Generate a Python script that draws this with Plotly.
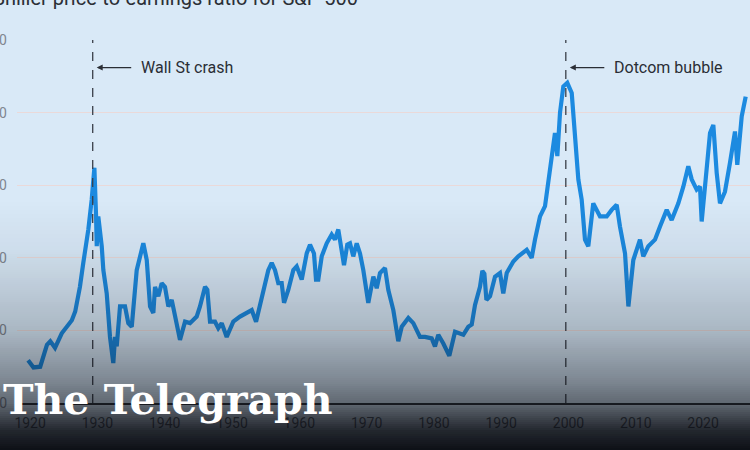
import numpy as np
import plotly.graph_objects as go

# Shiller CAPE (year, ratio)
years = [1919.7, 1920.5, 1921.5, 1922.5, 1923.0, 1923.7, 1924.7, 1925.4, 1926.2, 1926.7,
         1927.4, 1927.9, 1928.65, 1929.15, 1929.55, 1929.8, 1929.9, 1930.13, 1930.64, 1930.88,
         1931.38, 1931.87, 1932.36, 1932.62, 1932.87, 1933.36, 1934.1, 1934.59, 1935.1, 1935.84,
         1936.82, 1937.33, 1937.82, 1938.31, 1938.56, 1939.05, 1939.55, 1940.04, 1940.54, 1941.04,
         1941.53, 1942.27, 1943.02, 1943.76, 1944.75, 1945.24, 1945.99, 1946.33, 1946.73, 1947.47,
         1947.96, 1948.47, 1949.21, 1950.19, 1951.19, 1952.2, 1952.93, 1953.57, 1954.65, 1955.39,
         1955.9, 1956.39, 1956.88, 1957.38, 1957.73, 1958.37, 1959.11, 1959.61, 1960.36, 1961.1,
         1961.59, 1962.18, 1962.48, 1962.82, 1963.33, 1964.07, 1964.81, 1965.3, 1965.79, 1966.3,
         1966.64, 1967.13, 1967.53, 1968.02, 1968.53, 1969.02, 1969.51, 1970.25, 1971.0, 1971.5,
         1971.99, 1972.73, 1973.22, 1973.97, 1974.71, 1975.22, 1976.2, 1976.94, 1977.93, 1978.68,
         1979.67, 1980.16, 1980.65, 1981.4, 1982.29, 1983.14, 1983.88, 1984.37, 1985.11, 1985.62,
         1986.11, 1986.85, 1987.2, 1987.5, 1987.8, 1988.34, 1989.08, 1989.82, 1990.31, 1990.82,
         1991.8, 1992.54, 1993.79, 1994.53, 1995.02, 1995.77, 1996.51, 1997.25, 1997.99, 1998.34,
         1998.74, 1999.23, 1999.82, 2000.48, 2000.97, 2001.46, 2001.96, 2002.45, 2002.94, 2003.68,
         2004.68, 2005.68, 2006.42, 2007.16, 2007.65, 2008.4, 2008.9, 2009.63, 2010.62, 2011.11,
         2011.86, 2012.85, 2013.6, 2014.59, 2015.33, 2016.32, 2017.06, 2017.8, 2018.31, 2019.05,
         2019.54, 2019.79, 2020.28, 2021.03, 2021.52, 2022.02, 2022.51, 2023.25, 2024.0, 2024.74,
         2025.08, 2025.74, 2026.33]
cape = [5.9, 4.9, 5.0, 8.0, 8.5, 7.6, 9.6, 10.5, 11.4, 12.6,
        16.0, 19.3, 23.9, 28.0, 32.4, 25.7, 21.6, 25.7, 21.6, 18.3,
        15.1, 9.1, 5.5, 9.1, 7.8, 13.3, 13.3, 11.0, 10.5, 18.3,
        22.0, 19.7, 13.3, 12.4, 16.0, 14.7, 16.5, 16.0, 13.3, 14.2,
        11.9, 8.7, 11.2, 11.0, 11.9, 13.3, 16.0, 15.6, 11.2, 11.2,
        10.3, 11.0, 9.1, 11.2, 11.9, 12.4, 12.8, 11.2, 15.6, 18.3,
        19.3, 18.3, 16.5, 16.5, 13.8, 15.6, 18.3, 18.8, 17.0, 20.6,
        21.8, 20.6, 17.0, 17.0, 20.2, 22.0, 23.2, 22.5, 23.9, 21.1,
        19.0, 21.8, 22.0, 20.2, 22.0, 20.6, 18.3, 13.8, 17.4, 15.8,
        17.9, 18.6, 15.6, 12.8, 8.5, 10.5, 11.7, 11.0, 9.1, 9.1,
        8.9, 7.8, 9.4, 8.2, 6.5, 9.8, 9.6, 9.4, 10.5, 10.8,
        13.5, 16.0, 18.2, 17.8, 14.2, 14.7, 17.4, 17.9, 15.1, 17.9,
        19.5, 20.2, 21.1, 20.0, 22.5, 25.7, 27.1, 32.6, 37.2, 34.0,
        40.0, 43.6, 44.1, 42.7, 36.3, 30.8, 28.0, 22.5, 21.6, 27.5,
        25.7, 25.7, 26.6, 27.3, 24.3, 20.6, 13.3, 19.7, 22.5, 20.2,
        21.6, 22.5, 24.3, 26.6, 25.2, 27.5, 29.8, 32.6, 30.8, 29.4,
        29.8, 25.0, 29.8, 37.2, 38.3, 31.7, 27.5, 29.1, 33.1, 37.4,
        32.8, 39.5, 42.2]

events = ["Wall St crash", "Dotcom bubble"]
event_years = [1929.3, 1999.6]
tick_years = [1920, 1930, 1940, 1950, 1960, 1970, 1980, 1990, 2000, 2010, 2020]
y_ticks = [0, 10, 20, 30, 40, 50]

W, H = 750, 450
L, R, T, B = 17, 0, 40, 47
plot_h = H - T - B

fig = go.Figure()
fig.add_trace(go.Scatter(x=years, y=cape, mode="lines",
                         line=dict(color="#1c8ae0", width=4.2), hoverinfo="skip"))

for ey in event_years:
    fig.add_shape(type="line", xref="x", yref="paper", x0=ey, x1=ey, y0=0, y1=1,
                  line=dict(color="#3a3f48", width=1.3, dash="dash"))

# labels with arrows
for ey, txt in zip(event_years, events):
    fig.add_annotation(x=ey, y=46.2, xref="x", yref="y", text="", showarrow=True,
                       ax=40, ay=0, axref="pixel", ayref="pixel",
                       arrowhead=2, arrowsize=1, arrowwidth=1.2, arrowcolor="#2a2e35",
                       standoff=4)
    fig.add_annotation(x=ey, y=46.2, xref="x", yref="y", text=txt, showarrow=False,
                       xanchor="left", xshift=46,
                       font=dict(family="Roboto", size=16, color="#2a2e35"))

# dark vignette at the bottom
def px_to_paper(py):
    return (H - B - py) / plot_h

stops_y = [200, 250, 330, 380, 403, 430, 450]
stops_a = [0.0, 0.05, 0.22, 0.43, 0.57, 0.86, 0.97]
step = 2
for py in range(200, 452, step):
    a = float(np.interp(py + step / 2, stops_y, stops_a))
    if a <= 0:
        continue
    fig.add_shape(type="rect", xref="paper", yref="paper", layer="above",
                  x0=-0.1, x1=1.1, y0=px_to_paper(py + step), y1=px_to_paper(py),
                  fillcolor=f"rgba(6,8,14,{a:.3f})", line=dict(width=0))

fig.add_annotation(xref="paper", yref="paper", x=(-9 - L) / (W - L - R), y=1,
                   xanchor="left", yanchor="bottom", yshift=28, showarrow=False,
                   text="Shiller price-to-earnings ratio for S&P 500",
                   font=dict(family="Roboto", size=20, color="#2b2f36"))

fig.add_annotation(xref="paper", yref="paper", x=(168 - L) / (W - L - R), y=px_to_paper(400),
                   xanchor="center", yanchor="middle", showarrow=False,
                   text="<b>The Telegraph</b>",
                   font=dict(family="DejaVu Serif", size=41, color="white"))

fig.update_layout(
    width=W, height=H,
    margin=dict(l=L, r=R, t=T, b=B),
    paper_bgcolor="#d9e9f7", plot_bgcolor="rgba(0,0,0,0)",
    showlegend=False,
)
fig.update_xaxes(range=[1918.05, 2026.97], tickvals=tick_years, showgrid=False,
                 zeroline=False, showline=True, linecolor="#2f333a", linewidth=1.5,
                 ticks="", ticklabelstandoff=6, automargin=False,
                 tickfont=dict(family="Roboto", size=14, color="#5a5f68"))
fig.update_yaxes(range=[0, 50], tickvals=y_ticks, showgrid=True, gridcolor="#ead9d9",
                 gridwidth=1, zeroline=False, ticks="", ticklabelstandoff=9,
                 automargin=False,
                 tickfont=dict(family="Roboto", size=14, color="#80868f"))

fig.write_html("out.html", config={"displayModeBar": False},
               post_script="document.body.style.margin='0';")
